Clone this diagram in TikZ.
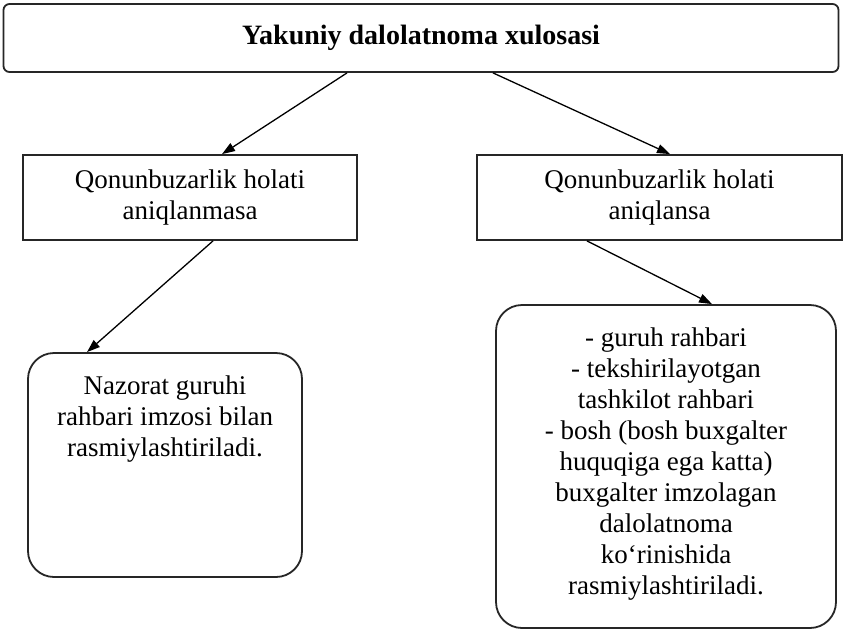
\documentclass[tikz,border=0pt]{standalone}
\usepackage{fontspec}
\setmainfont{Liberation Serif}
\usetikzlibrary{arrows.meta}
\begin{document}
\begin{tikzpicture}[x=1pt,y=-1pt,
  frame/.style={draw=black!85, line width=1.8pt, inner sep=0pt},
  sqbox/.style={frame, rectangle, minimum width=#1, minimum height=85pt},
  roundbox/.style={frame, rounded corners=26pt},
  body/.style={font=\fontsize{27}{31}\selectfont, align=center, inner sep=0pt},
  link/.style={line width=1.3pt, -{Triangle[length=13pt,width=9pt]}},
]
\useasboundingbox (0,0) rectangle (843,633);

% heading
\node[frame, rounded corners=6pt, minimum width=835pt, minimum height=68pt,
      font=\fontsize{28}{32}\selectfont\bfseries] (top) at (421,38)
      {Yakuniy dalolatnoma xulosasi};

% the two outcomes
\node[sqbox=334pt, body] (lbox) at (190,197.5)
      {Qonunbuzarlik holati\\aniqlanmasa};
\node[sqbox=365pt, body] (rbox) at (659.5,197.5)
      {Qonunbuzarlik holati\\aniqlansa};

% how each outcome is formalised
\node[roundbox, minimum width=274pt, minimum height=224pt] (lround) at (165,465) {};
\node[body, anchor=north] (ltext) at ([yshift=-23.5pt]lround.north)
      {Nazorat guruhi\\rahbari imzosi bilan\\rasmiylashtiriladi.};

\node[roundbox, minimum width=340pt, minimum height=323pt] (rround) at (666,466.5) {};
\node[body, anchor=north] (rtext) at ([yshift=-23.5pt]rround.north)
      {- guruh rahbari\\- tekshirilayotgan\\tashkilot rahbari\\- bosh (bosh buxgalter\\huquqiga ega katta)\\buxgalter imzolagan\\dalolatnoma\\ko`rinishida\\rasmiylashtiriladi.};

% connectors
\draw[link] ([xshift=-74pt]top.south) -- ([xshift=32pt]lbox.north);
\draw[link] ([xshift=72pt]top.south) -- ([xshift=10.5pt]rbox.north);
\draw[link] ([xshift=23pt]lbox.south) -- ([xshift=-78pt]lround.north);
\draw[link] ([xshift=-72.5pt]rbox.south) -- ([xshift=46pt]rround.north);
\end{tikzpicture}
\end{document}
